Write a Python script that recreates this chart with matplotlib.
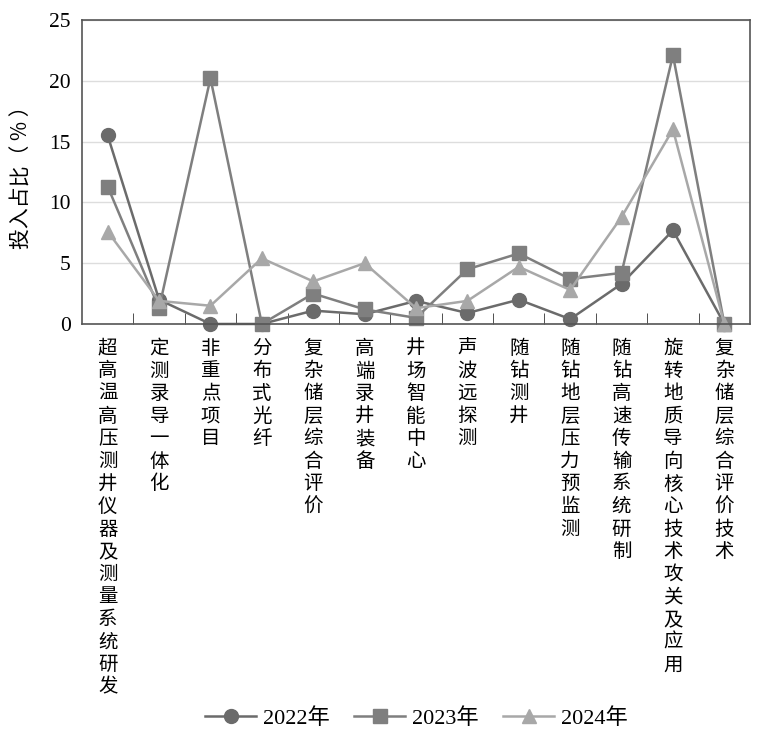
import matplotlib.pyplot as plt
import numpy as np

categories = ["超高温高压测井仪器及测量系统研发", "定测录导一体化", "非重点项目", "分布式光纤",
              "复杂储层综合评价", "高端录井装备", "井场智能中心", "声波远探测", "随钻测井",
              "随钻地层压力预监测", "随钻高速传输系统研制", "旋转地质导向核心技术攻关及应用",
              "复杂储层综合评价技术"]
v2022 = [15.5, 2.0, 0.0, 0.0, 1.1, 0.8, 1.9, 0.9, 2.0, 0.4, 3.3, 7.7, 0.0]
v2023 = [11.3, 1.3, 20.2, 0.0, 2.5, 1.2, 0.5, 4.5, 5.8, 3.7, 4.2, 22.1, 0.0]
v2024 = [7.6, 1.9, 1.5, 5.4, 3.5, 5.0, 1.3, 1.9, 4.7, 2.8, 8.8, 16.0, 0.0]
years = ["2022年", "2023年", "2024年"]

plt.rcParams['font.family'] = ['Liberation Serif', 'Noto Sans CJK SC']

fig = plt.figure(figsize=(7.57, 7.37), dpi=100)
ax = fig.add_axes([0.1083, 0.5604, 0.8825, 0.4125])

x = np.arange(len(categories))
styles = [("o", "#6b6b6b"), ("s", "#7f7f7f"), ("^", "#a8a8a8")]
for vals, (m, c), lab in zip([v2022, v2023, v2024], styles, years):
    ax.plot(x, vals, marker=m, color=c, lw=1.8, markersize=10, label=lab, clip_on=False)

ax.set_xlim(-0.5, len(categories) - 0.5)
ax.set_ylim(0, 25)
ax.set_yticks([0, 5, 10, 15, 20, 25])
ax.grid(axis='y', color='#dddddd', lw=1)
ax.set_axisbelow(True)

ax.set_xticks(x)
ax.set_xticklabels(["\n".join(c) for c in categories], family=['Noto Sans CJK SC'],
                   fontsize=14, va='top', linespacing=1.1)
ax.tick_params(axis='x', length=0, pad=10)
ax.set_xticks(np.arange(0.5, len(categories) - 0.5), minor=True)
ax.tick_params(axis='x', which='minor', direction='in', length=8, color='#333333')
ax.tick_params(axis='y', length=0, labelsize=15.5, pad=8)

for s in ax.spines.values():
    s.set_color('#555555')
    s.set_linewidth(1.2)

ax.set_ylabel("投入占比（ % ）", family=['Noto Sans CJK SC'], fontsize=15, labelpad=12)

fig.legend(loc='lower center', bbox_to_anchor=(0.55, -0.016), ncol=3, frameon=False,
           fontsize=16, handlelength=2.3, columnspacing=1.1, handletextpad=0.3)

fig.savefig("out.png", dpi=100)
